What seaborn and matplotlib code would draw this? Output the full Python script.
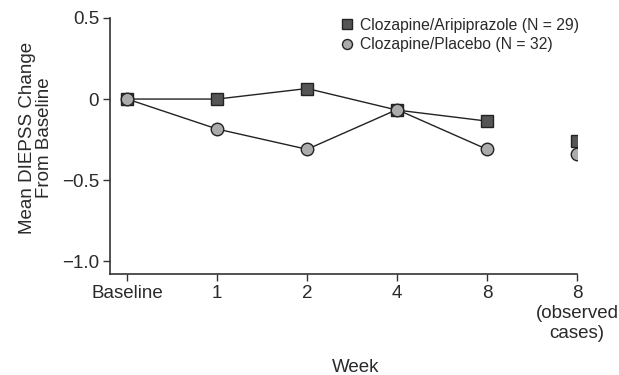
import numpy as np
import pandas as pd
import matplotlib
matplotlib.use("Agg")
import matplotlib.pyplot as plt
import seaborn as sns

categories = ["Baseline", "1", "2", "4", "8", "8\n(observed\ncases)"]
aripiprazole = [0.0, 0.0, 0.065, -0.068, -0.136, -0.26]
placebo = [0.0, -0.185, -0.31, -0.065, -0.31, -0.34]
series_names = ["Clozapine/Aripiprazole (N = 29)", "Clozapine/Placebo (N = 32)"]
y_ticks = [0.5, 0, -0.5, -1.0]
y_tick_labels = ["0.5", "0", "\u22120.5", "\u22121.0"]

sns.set_theme(style="ticks")
plt.rcParams['font.family'] = ['Liberation Sans', 'DejaVu Sans']

fig = plt.figure(figsize=(6.19, 3.75), dpi=100)
ax = fig.add_axes([0.178, 0.269, 0.754, 0.683])

x = np.arange(len(categories))
df = pd.DataFrame({
    "x": np.concatenate([x, x]),
    "y": aripiprazole + placebo,
    "group": [series_names[0]] * len(x) + [series_names[1]] * len(x),
})
line_df = df[df["x"] < len(categories) - 1]

styles = {
    series_names[0]: dict(marker="s", color="#555555", ms=9),
    series_names[1]: dict(marker="o", color="#ababab", ms=9),
}
for name in series_names:
    sub = line_df[line_df["group"] == name]
    sns.lineplot(data=sub, x="x", y="y", ax=ax, color="#222222", lw=1.0,
                 legend=False, zorder=2)
for name in series_names:
    sub = df[df["group"] == name]
    st = styles[name]
    ax.plot(sub["x"], sub["y"], ls="none", marker=st["marker"], ms=st["ms"],
            mfc=st["color"], mec="#222222", mew=1.0, zorder=3, label=name)

tc = "#2a2a2a"
fs = 13.5
ax.set_xlim(-0.19, 5.0)
ax.set_ylim(-1.08, 0.5)
ax.set_xticks(x)
ax.set_xticklabels(categories, fontsize=fs, color=tc, linespacing=1.22)
ax.set_yticks(y_ticks)
ax.set_yticklabels(y_tick_labels, fontsize=fs, color=tc)
ax.tick_params(axis="both", direction="out", length=5, width=1, color="#333333", pad=3)
for s in ["top", "right"]:
    ax.spines[s].set_visible(False)
for s in ["left", "bottom"]:
    ax.spines[s].set_color("#333333")
    ax.spines[s].set_linewidth(1.2)

ax.set_xlabel("Week", fontsize=fs, color=tc)
ax.xaxis.set_label_coords(0.525, -0.332)
ax.set_ylabel("Mean DIEPSS Change\nFrom Baseline", fontsize=fs, color=tc,
              labelpad=6, linespacing=1.0)
ax.yaxis.label.set_y(0.531)

leg = ax.legend(loc="upper left", bbox_to_anchor=(0.479, 1.025), frameon=False,
                fontsize=11.3, handletextpad=0.35, borderaxespad=0.0,
                labelspacing=0.28, markerscale=0.8, handlelength=0.9)
for t in leg.get_texts():
    t.set_color(tc)

fig.savefig("out.png", dpi=100)
